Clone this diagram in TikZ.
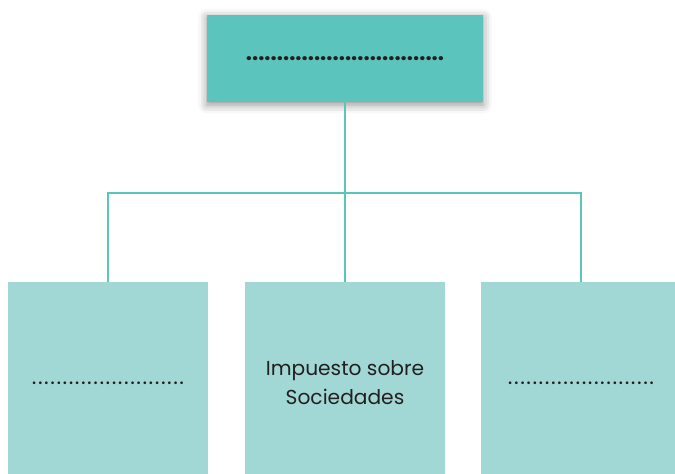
\documentclass[tikz,border=0pt]{standalone}
\usepackage{fontspec}
\setmainfont{Poppins}
\usepackage{tikz}
\usetikzlibrary{positioning, shadows.blur}
\usepackage{xcolor}
\definecolor{tealdark}{HTML}{5BC4BC}
\definecolor{teallight}{HTML}{A1D8D5}
\definecolor{inkgray}{HTML}{231F20}

\begin{document}
\begin{tikzpicture}[x=0.02cm, y=-0.02cm,
    topbox/.style={fill=tealdark, minimum width=5.52cm, minimum height=1.74cm,
        inner sep=0pt, text=inkgray,
        blur shadow={shadow xshift=0pt, shadow yshift=-1.5pt, shadow blur radius=5pt, shadow opacity=45}},
    subbox/.style={fill=teallight, minimum width=4cm, minimum height=4.04cm,
        inner sep=0pt, text=inkgray, align=center, font=\fontsize{11.5}{16.4}\selectfont},
    dotrow/.style={font=\fontsize{12.5}{15}\selectfont\addfontfeature{LetterSpace=7}},
    link/.style={draw=tealdark, line width=1.2pt}]
    \useasboundingbox (0,0) rectangle (675,473);

    % Top box
    \node[topbox, font=\bfseries\fontsize{12.5}{15}\selectfont] (top) at (345,58.5)
        {................................};

    % Bottom boxes
    \node[subbox, dotrow] (left) at (108,383) {.........................};
    \node[subbox] (mid) at (345,383) {Impuesto sobre\\Sociedades};
    \node[subbox, dotrow] (right) at (581,383) {........................};

    % Connectors
    \coordinate (fork) at (345,193);
    \draw[link] (top.south) -- (mid.north);
    \draw[link] (left.north) |- (fork) -| (right.north);
\end{tikzpicture}
\end{document}
